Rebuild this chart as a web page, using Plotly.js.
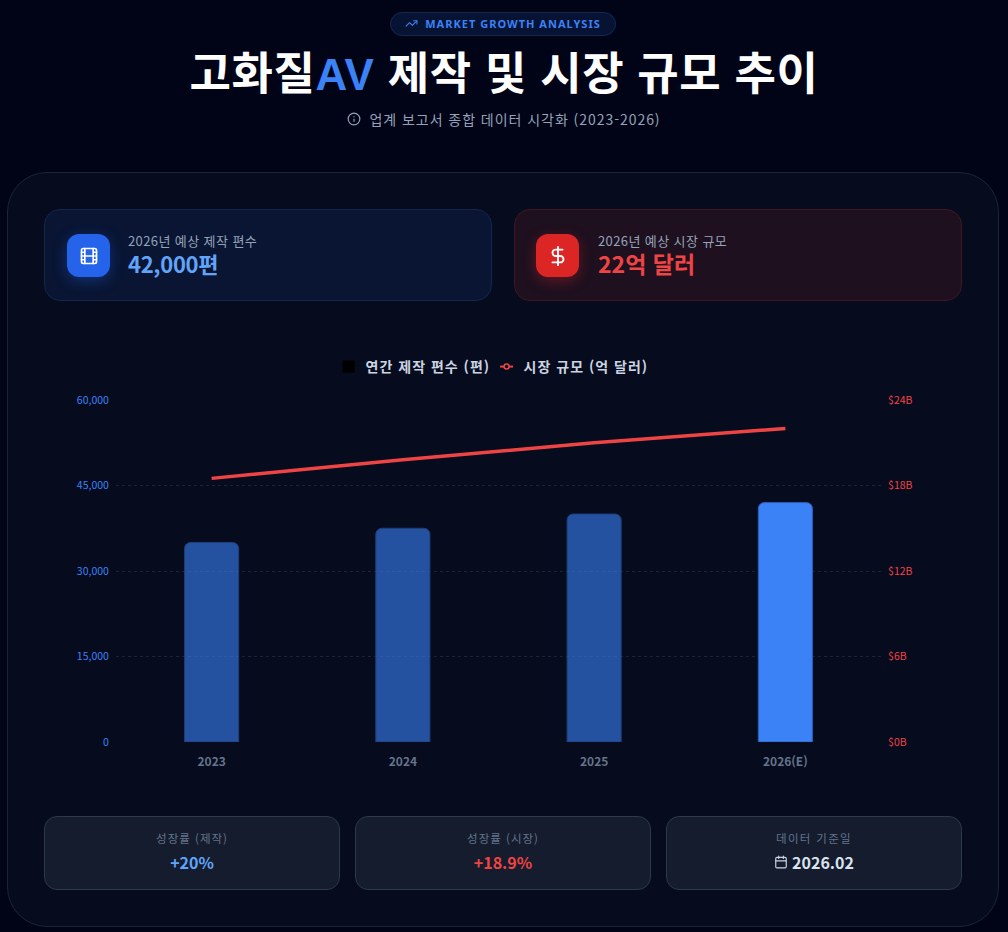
<!DOCTYPE html>
<html lang="ko">
<head>
<meta charset="utf-8">
<script src="https://cdn.plot.ly/plotly-3.0.1.min.js"></script>
<style>
html,body{margin:0;padding:0;background:#010417;width:1008px;height:932px;overflow:hidden;font-family:"Noto Sans CJK KR","Noto Sans",sans-serif;}
.abs{position:absolute;box-sizing:border-box;}
#badge{left:390px;top:12px;width:226px;height:24px;border-radius:12px;background:#071333;border:1px solid #14284f;color:#3b82f6;font:700 11px "Noto Sans",sans-serif;letter-spacing:1.02px;display:flex;align-items:center;justify-content:center;gap:7px;padding-bottom:1px;}
#title{left:0;top:40px;width:1008px;text-align:center;color:#fff;font-size:45px;font-weight:700;line-height:62px;letter-spacing:.6px;white-space:nowrap;}
#title span{color:#3b82f6;font-family:"Liberation Sans",sans-serif;font-size:44px;}
#sub{left:0;top:108px;width:1008px;display:flex;justify-content:center;align-items:center;gap:8px;color:#94a3b8;font-size:14px;line-height:22px;letter-spacing:.95px;}
#panel{left:7px;top:172px;width:992px;height:755px;border-radius:40px;background:#060b1e;border:1px solid #1b2539;}
.card{top:209px;width:448px;height:92px;border-radius:16px;}
#c1{left:44px;background:#091533;border:1px solid #13264f;}
#c2{left:514px;background:#1e101f;border:1px solid #3f1722;}
.icon{top:234px;width:43px;height:43px;border-radius:12px;display:flex;align-items:center;justify-content:center;}
#i1{left:67px;background:#2563eb;box-shadow:0 4px 14px rgba(37,99,235,.35);}
#i2{left:536px;background:#dc2626;box-shadow:0 4px 14px rgba(220,38,38,.35);}
.lab{color:#94a3b8;font-size:13px;line-height:16px;top:233px;white-space:nowrap;letter-spacing:.4px;}
.val{font-size:23px;font-weight:700;line-height:26px;top:250px;white-space:nowrap;}
.stat{top:816px;width:296px;height:74px;border-radius:13px;background:#141c2e;border:1px solid #2c384c;text-align:center;}
.stat .l{position:absolute;left:0;right:0;top:12px;color:#64748b;font-size:11.5px;line-height:18px;letter-spacing:1px;}
.stat .v{position:absolute;left:0;right:0;top:33px;font-size:16px;font-weight:700;line-height:24px;display:flex;justify-content:center;align-items:center;gap:4px;}
#chart{left:44px;top:350px;width:918px;height:440px;}
#chart .legendtext{letter-spacing:1px;}
#chart .legend .scrollbox{clip-path:none !important;}
</style>
</head>
<body>
<div class="abs" id="badge"><svg width="13" height="13" viewBox="0 0 24 24" fill="none" stroke="#3b82f6" stroke-width="2" stroke-linecap="round" stroke-linejoin="round"><path d="M22 7 13.5 15.5 8.5 10.5 2 17"/><path d="M16 7h6v6"/></svg><span>MARKET GROWTH ANALYSIS</span></div>
<div class="abs" id="title">고화질<span>AV</span> 제작 및 시장 규모 추이</div>
<div class="abs" id="sub"><svg width="14" height="14" viewBox="0 0 24 24" fill="none" stroke="#94a3b8" stroke-width="2" stroke-linecap="round"><circle cx="12" cy="12" r="10"/><path d="M12 16v-4M12 8h.01"/></svg><span>업계 보고서 종합 데이터 시각화 (2023-2026)</span></div>
<div class="abs" id="panel"></div>
<div class="abs card" id="c1"></div>
<div class="abs card" id="c2"></div>
<div class="abs icon" id="i1"><svg width="20" height="20" viewBox="0 0 24 24" fill="none" stroke="#fff" stroke-width="2" stroke-linecap="round" stroke-linejoin="round"><rect x="3" y="3" width="18" height="18" rx="2"/><path d="M7 3v18M3 7.5h4M3 12h18M3 16.5h4M17 3v18M17 7.5h4M17 16.5h4"/></svg></div>
<div class="abs icon" id="i2"><svg width="22" height="22" viewBox="0 0 24 24" fill="none" stroke="#fff" stroke-width="2" stroke-linecap="round" stroke-linejoin="round"><path d="M12 2v20"/><path d="M17 5H9.5a3.5 3.5 0 0 0 0 7h5a3.5 3.5 0 0 1 0 7H6"/></svg></div>
<div class="abs lab" style="left:128px">2026년 예상 제작 편수</div>
<div class="abs val" style="left:128px;color:#60a5fa;font-size:22px;letter-spacing:-.3px">42,000편</div>
<div class="abs lab" style="left:598px">2026년 예상 시장 규모</div>
<div class="abs val" style="left:598px;color:#ef4444">22억 달러</div>
<div class="abs" id="chart"></div>
<div class="abs stat" style="left:44px"><div class="l">성장률 (제작)</div><div class="v" style="color:#60a5fa">+20%</div></div>
<div class="abs stat" style="left:355px"><div class="l">성장률 (시장)</div><div class="v" style="color:#ef4444">+18.9%</div></div>
<div class="abs stat" style="left:666px"><div class="l" style="letter-spacing:1.3px">데이터 기준일</div><div class="v" style="color:#dbe3ee"><svg width="14" height="14" viewBox="0 0 24 24" fill="none" stroke="#cbd5e1" stroke-width="2" stroke-linecap="round"><rect x="3" y="4" width="18" height="18" rx="2"/><path d="M8 2v4M16 2v4M3 10h18"/></svg><span>2026.02</span></div></div>
<script>
var years = ['2023', '2024', '2025', '2026(E)'];
var productions = [35000, 37500, 40000, 42000];
var marketSize = [18.5, 19.8, 21, 22];
var barColors = ['rgba(59,130,246,0.6)', 'rgba(59,130,246,0.6)', 'rgba(59,130,246,0.6)', '#3b82f6'];
var barLineColors = ['#1e3f78', '#1e3f78', '#1e3f78', '#2c5fb8'];
var barLegendName = '연간 제작 편수 (편)';
var lineLegendName = '시장 규모 (억 달러)';
var leftTicks = [0, 15000, 30000, 45000, 60000];
var rightTicks = [0, 6, 12, 18, 24];
var rightTickLabels = ['$0B', '$6B', '$12B', '$18B', '$24B'];
var noValues = [null, null, null, null];

var FONT = '"Noto Sans CJK KR","Noto Sans",sans-serif';
var traces = [
  {type:'bar', x:years, y:productions, width:0.283, showlegend:false, hoverinfo:'none',
   marker:{color:barColors, line:{color:barLineColors, width:1}}},
  {type:'bar', x:years, y:noValues, name:barLegendName, marker:{color:'#000000', cornerradius:0}, hoverinfo:'none'},
  {type:'scatter', mode:'lines+markers', x:years, y:noValues, yaxis:'y2', name:lineLegendName, hoverinfo:'none',
   line:{color:'#ef4444', width:2}, marker:{size:5, color:'#060b1e', line:{color:'#ef4444', width:1.5}}},
  {type:'scatter', mode:'lines', x:years, y:marketSize, yaxis:'y2', showlegend:false, hoverinfo:'none',
   line:{color:'#ef4444', width:3.5}}
];
var layout = {
  width:918, height:440,
  margin:{l:72, r:81, t:50, b:48},
  paper_bgcolor:'rgba(0,0,0,0)', plot_bgcolor:'rgba(0,0,0,0)',
  barmode:'overlay', barcornerradius:6,
  font:{family:FONT},
  showlegend:true,
  legend:{orientation:'h', x:0.4805, xanchor:'center', y:0.9614, yref:'container', yanchor:'middle',
    font:{size:14, color:'#cbd5e1', weight:700}, itemwidth:30, traceorder:'normal', bgcolor:'rgba(0,0,0,0)',
    entrywidth:113, entrywidthmode:'pixels'},
  xaxis:{type:'category', showgrid:false, zeroline:false, showline:false, ticks:'outside', ticklen:9, tickcolor:'rgba(0,0,0,0)',
    tickfont:{size:12, color:'#64748b', weight:600}, fixedrange:true, range:[-0.5, 3.5]},
  yaxis:{range:[0, 60000], tickvals:leftTicks, tickformat:',d', showgrid:true, gridcolor:'#1a2438', griddash:'3px,3px', gridwidth:1,
    zeroline:false, showline:false, ticks:'outside', ticklen:4, tickcolor:'rgba(0,0,0,0)', tickfont:{size:10.5, color:'#3b82f6'}, fixedrange:true},
  yaxis2:{range:[0, 24], overlaying:'y', side:'right', tickvals:rightTicks, ticktext:rightTickLabels, showgrid:false, zeroline:false, showline:false,
    ticks:'outside', ticklen:4, tickcolor:'rgba(0,0,0,0)', tickfont:{size:10.5, color:'#ef4444'}, fixedrange:true}
};
Plotly.newPlot('chart', traces, layout, {displayModeBar:false, staticPlot:true}).then(function (gd) {
  // shorten the legend's line sample and tuck the keys closer to their texts
  gd.querySelectorAll('.legendlines path').forEach(function (p) { p.setAttribute('d', 'M16.5,0h13'); });
  gd.querySelectorAll('.legendsymbols').forEach(function (s) { s.setAttribute('transform', 'translate(3,0)'); });
});
</script>
</body>
</html>
